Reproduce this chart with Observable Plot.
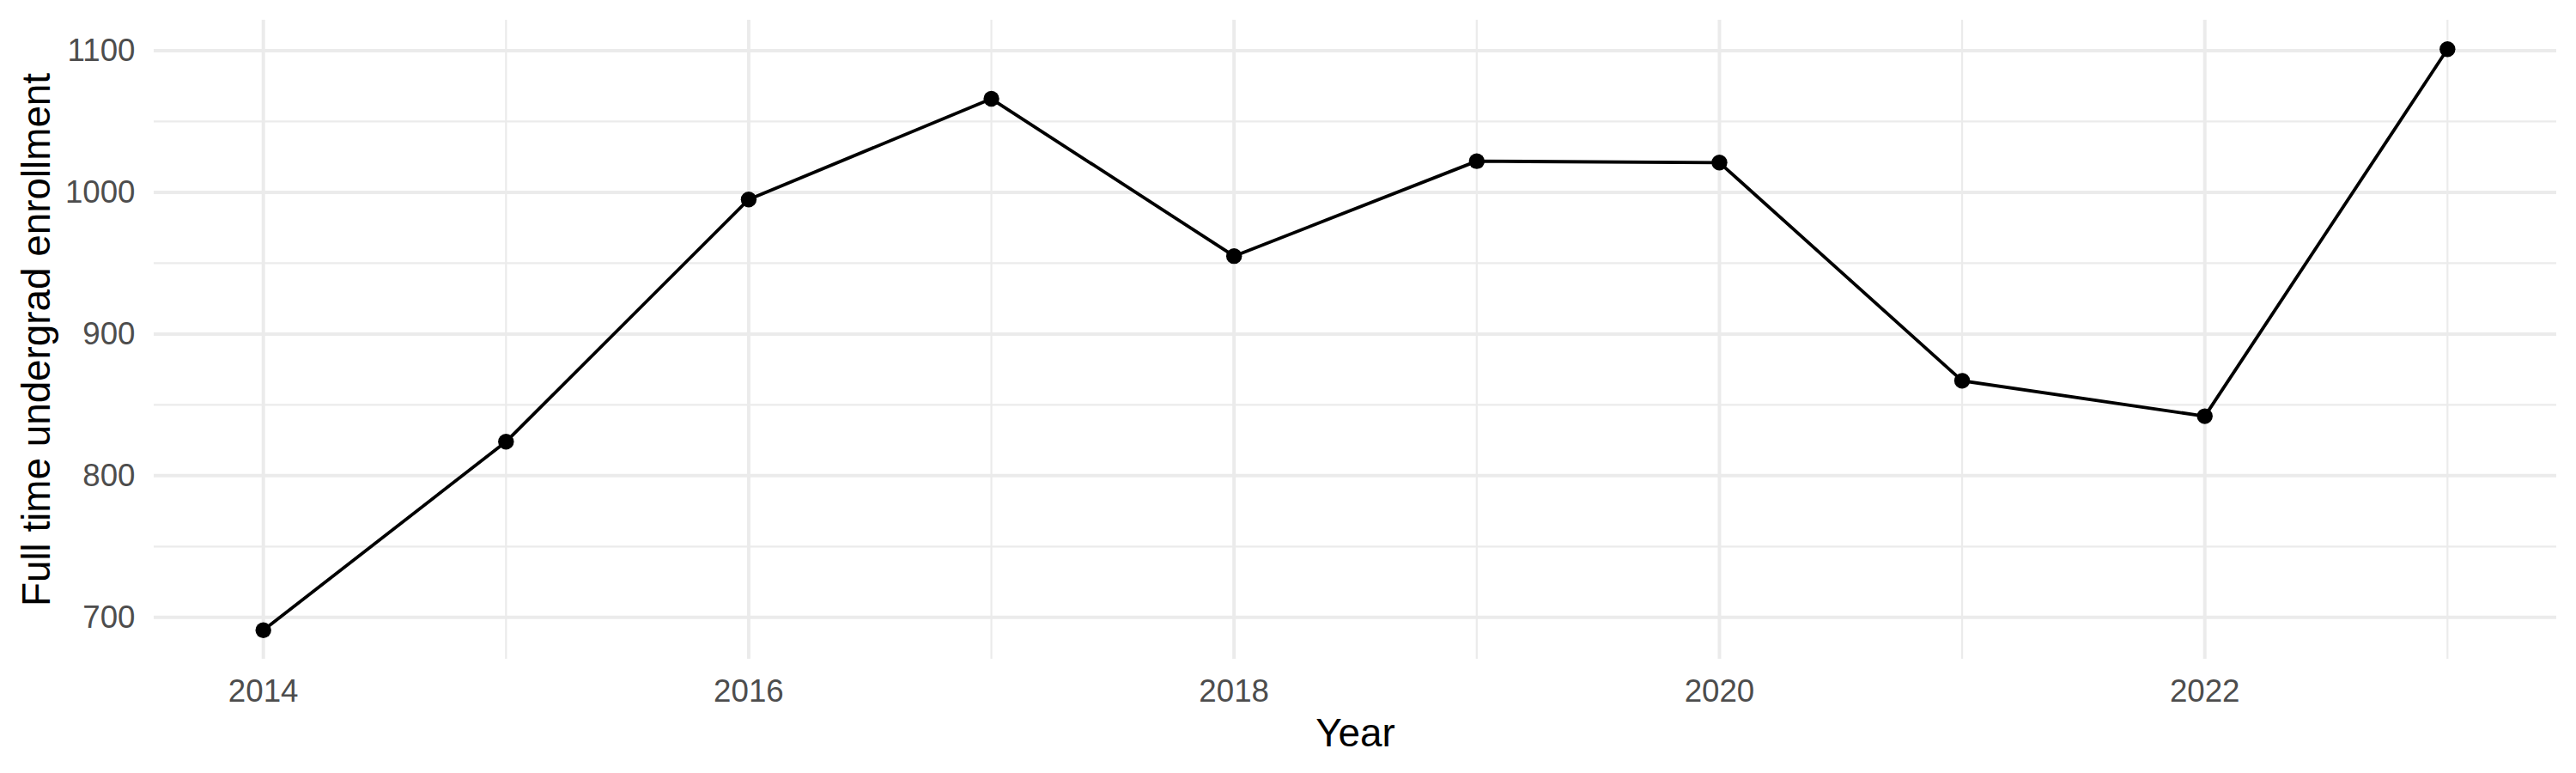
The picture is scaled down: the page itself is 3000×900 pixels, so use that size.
<!DOCTYPE html>
<html>
<head>
<meta charset="utf-8">
<script src="https://cdn.jsdelivr.net/npm/d3@7"></script>
<script src="https://cdn.jsdelivr.net/npm/@observablehq/plot@0.6"></script>
<style>
  html, body { margin: 0; padding: 0; background: #ffffff; }
  #chart svg { display: block; }
</style>
</head>
<body>
<div id="chart"></div>
<script>
const years = [2014, 2015, 2016, 2017, 2018, 2019, 2020, 2021, 2022, 2023];
const enrollment = [691, 824, 995, 1066, 955, 1022, 1021, 867, 842, 1101];
const xMajorTicks = [2014, 2016, 2018, 2020, 2022];
const xMinorTicks = [2015, 2017, 2019, 2021, 2023];
const yMajorTicks = [700, 800, 900, 1000, 1100];
const yMinorTicks = [750, 850, 950, 1050];
const xTitle = "Year";
const yTitle = "Full time undergrad enrollment";

const data = years.map((year, i) => ({year, value: enrollment[i]}));

const xMin = d3.min(years), xMax = d3.max(years);
const yMin = d3.min(enrollment), yMax = d3.max(enrollment);
const xPad = (xMax - xMin) * 0.05, yPad = (yMax - yMin) * 0.05;

const font = "'Liberation Sans', Arial, Helvetica, sans-serif";
const gridColor = "#EBEBEB";

const chart = Plot.plot({
  width: 3000,
  height: 900,
  marginLeft: 179,
  marginRight: 23,
  marginTop: 23,
  marginBottom: 133,
  style: {fontFamily: font, background: "#ffffff", overflow: "visible"},
  x: {domain: [xMin - xPad, xMax + xPad], axis: null},
  y: {domain: [yMin - yPad, yMax + yPad], axis: null},
  marks: [
    Plot.ruleX(xMinorTicks, {stroke: gridColor, strokeWidth: 2.2}),
    Plot.ruleY(yMinorTicks, {stroke: gridColor, strokeWidth: 2.2}),
    Plot.ruleX(xMajorTicks, {stroke: gridColor, strokeWidth: 4}),
    Plot.ruleY(yMajorTicks, {stroke: gridColor, strokeWidth: 4}),
    Plot.axisX(xMajorTicks, {
      tickSize: 0, tickPadding: 23, fontSize: 36.7, fill: "#4D4D4D",
      tickFormat: d => String(d), label: null
    }),
    Plot.axisY(yMajorTicks, {
      tickSize: 0, tickPadding: 22, fontSize: 36.7, fill: "#4D4D4D",
      tickFormat: d => String(d), label: null
    }),
    Plot.text([xTitle], {
      frameAnchor: "bottom", dy: 101, lineAnchor: "bottom", textAnchor: "middle",
      fontSize: 45.8, fill: "#000000", text: d => d
    }),
    Plot.text([yTitle], {
      frameAnchor: "left", dx: -122, lineAnchor: "bottom", textAnchor: "middle", rotate: -90,
      fontSize: 45.8, fill: "#000000", text: d => d
    }),
    Plot.line(data, {x: "year", y: "value", stroke: "#000000", strokeWidth: 3.8}),
    Plot.dot(data, {x: "year", y: "value", r: 9.2, fill: "#000000", stroke: null})
  ]
});

document.getElementById("chart").appendChild(chart);
</script>
</body>
</html>
